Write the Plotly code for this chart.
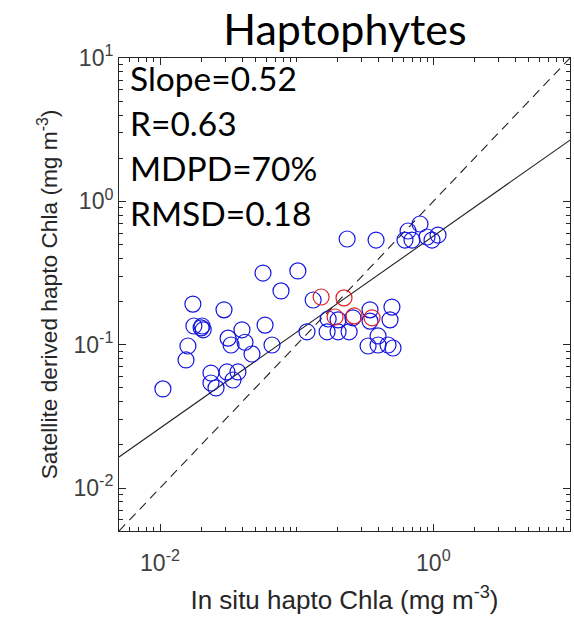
import plotly.graph_objects as go
import numpy as np

# In situ vs satellite-derived haptophyte Chla (mg m^-3)
insitu_blue = [0.0105, 0.0155, 0.0160, 0.0174, 0.0177, 0.0200, 0.0207, 0.0203,
               0.0236, 0.0236, 0.0257, 0.0294, 0.0315, 0.0331, 0.0309, 0.0372,
               0.0342, 0.0398, 0.0419, 0.0471, 0.0567, 0.0587, 0.0660, 0.0768,
               0.102, 0.119, 0.132, 0.170, 0.201, 0.167, 0.201, 0.242,
               0.234, 0.381, 0.344, 0.344, 0.498, 0.482, 0.394, 0.333,
               0.394, 0.466, 0.507, 0.799, 0.653, 0.620, 0.698, 0.899,
               1.082, 0.978, 0.258]
satellite_blue = [0.0491, 0.0782, 0.0979, 0.192, 0.135, 0.131, 0.127, 0.135,
                  0.0634, 0.0540, 0.0499, 0.175, 0.111, 0.0995, 0.0645, 0.0645,
                  0.0567, 0.127, 0.104, 0.0861, 0.316, 0.137, 0.0995, 0.237,
                  0.327, 0.123, 0.205, 0.151, 0.149, 0.123, 0.123, 0.123,
                  0.546, 0.537, 0.175, 0.146, 0.183, 0.149, 0.115, 0.0979,
                  0.0995, 0.0995, 0.0948, 0.695, 0.621, 0.537, 0.537, 0.564,
                  0.582, 0.537, 0.154]

insitu_red = [0.151, 0.222, 0.191, 0.263, 0.356]
satellite_red = [0.215, 0.212, 0.156, 0.159, 0.154]

# Regression line in log-log space and the 1:1 reference
fit_slope = 0.67
fit_log_intercept = -0.243
axis_min, axis_max = 10 ** -2.3, 10.0

stats_lines = ["Slope=0.52", "R=0.63", "MDPD=70%", "RMSD=0.18"]

major_vals = [0.01, 1]
major_text = ["10<sup>-2</sup>", "10<sup>0</sup>"]
y_major_vals = [0.01, 0.1, 1, 10]
y_major_text = ["10<sup>-2</sup>", "10<sup>-1</sup>", "10<sup>0</sup>", "10<sup>1</sup>"]

minor_vals = [m * 10.0 ** e for e in range(-3, 1) for m in range(2, 10)]
minor_vals = [v for v in minor_vals if axis_min < v < axis_max]
x_minor_vals = sorted(minor_vals + [0.1, 10])

fig = go.Figure()

line_x = np.array([axis_min, axis_max])
fig.add_trace(go.Scatter(x=line_x, y=line_x, mode="lines",
                         line=dict(color="#222222", width=1.1, dash="9px,6px"),
                         hoverinfo="skip", showlegend=False))
fig.add_trace(go.Scatter(x=line_x, y=10 ** fit_log_intercept * line_x ** fit_slope,
                         mode="lines", line=dict(color="#222222", width=1.1),
                         hoverinfo="skip", showlegend=False))

fig.add_trace(go.Scatter(x=insitu_blue, y=satellite_blue, mode="markers",
                         marker=dict(symbol="circle-open", size=16,
                                     color="#1414e0", line=dict(width=1.2)),
                         showlegend=False))
fig.add_trace(go.Scatter(x=insitu_red, y=satellite_red, mode="markers",
                         marker=dict(symbol="circle-open", size=16,
                                     color="#e02020", line=dict(width=1.2)),
                         showlegend=False))

axis_common = dict(type="log", range=[-2.3, 1], showgrid=False, zeroline=False,
                   showline=True, linecolor="#262626", linewidth=1,
                   mirror="ticks", ticks="inside", ticklen=7, tickcolor="#262626",
                   tickfont=dict(family="Liberation Sans, Arial", size=23, color="#404040"))

fig.update_xaxes(**axis_common, tickmode="array", tickvals=major_vals, ticktext=major_text,
                 ticklabelstandoff=11,
                 minor=dict(tickmode="array", tickvals=x_minor_vals, ticks="inside",
                            ticklen=4, tickcolor="#262626"),
                 title=dict(text="In situ hapto Chla (mg m<sup>-3</sup>)",
                            font=dict(family="Liberation Sans, Arial", size=26, color="#262626"),
                            standoff=16))
fig.update_yaxes(**axis_common, tickmode="array", tickvals=y_major_vals, ticktext=y_major_text,
                 minor=dict(tickmode="array", tickvals=minor_vals, ticks="inside",
                            ticklen=4, tickcolor="#262626"),
                 title=dict(text="Satellite derived hapto Chla (mg m<sup>-3</sup>)",
                            font=dict(family="Liberation Sans, Arial", size=22.7, color="#262626"),
                            standoff=9))

for i, txt in enumerate(stats_lines):
    fig.add_annotation(text=txt, xref="paper", yref="paper", x=0.02,
                       y=0.958 - i * 0.0955, xanchor="left", yanchor="middle",
                       showarrow=False,
                       font=dict(family="Lato", size=33.5, color="black"))

fig.update_layout(
    width=574, height=617,
    margin=dict(l=119, r=4, t=58, b=86),
    paper_bgcolor="white", plot_bgcolor="white",
    title=dict(text="Haptophytes", x=0.601, xanchor="center", y=0.951, yanchor="middle",
               font=dict(family="Lato", size=43, color="black")),
)

fig.write_html("out.html")
